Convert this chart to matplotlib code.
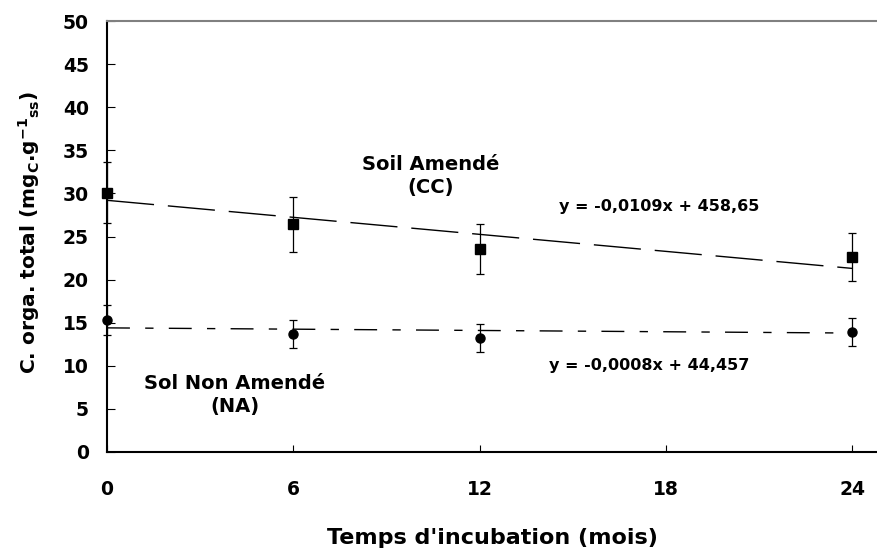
import matplotlib
matplotlib.use("Agg")
import matplotlib.pyplot as plt

# months of incubation
months = [0, 6, 12, 24]

# amended soil (CC)
cc_mean = [30.1, 26.4, 23.5, 22.6]
cc_err = [3.55, 3.2, 2.9, 2.75]

# non amended soil (NA)
na_mean = [15.35, 13.7, 13.25, 13.9]
na_err = [1.75, 1.65, 1.6, 1.65]

# linear trend end points
trend_x = [0, 24]
cc_trend = [29.2, 21.3]
na_trend = [14.4, 13.8]

xticks = [0, 6, 12, 18, 24]
yticks = list(range(0, 55, 5))

plt.rcParams['font.family'] = 'DejaVu Sans'
plt.rcParams['font.weight'] = 'bold'
plt.rcParams['mathtext.fontset'] = 'dejavusans'
plt.rcParams['mathtext.default'] = 'bf'
plt.rcParams['lines.scale_dashes'] = False

fig = plt.figure(figsize=(8.77, 5.49), dpi=100)
ax = fig.add_axes([0.122, 0.1767, 0.878, 0.785])

# trend lines
ax.plot(trend_x, cc_trend, color='black', lw=1.0, dashes=(34, 10))
ax.plot(trend_x, na_trend, color='black', lw=1.0, dashes=(16.5, 11, 6, 11))

# data with error bars
ax.errorbar(months, cc_mean, yerr=cc_err, fmt='s', color='black', ms=6.5,
            ecolor='black', elinewidth=0.9, capsize=2.6, capthick=0.9, clip_on=False)
ax.errorbar(months, na_mean, yerr=na_err, fmt='o', color='black', ms=6.5,
            ecolor='black', elinewidth=0.9, capsize=2.6, capthick=0.9, clip_on=False)

ax.set_xlim(0, 24.8)
ax.set_ylim(0, 50)
ax.set_xticks(xticks)
ax.set_yticks(yticks)
ax.tick_params(axis='both', direction='in', labelsize=13.5, width=0.8)
ax.tick_params(axis='x', length=5, pad=20)
ax.tick_params(axis='y', length=6, pad=13)
for lab in ax.get_xticklabels() + ax.get_yticklabels():
    lab.set_fontweight('bold')

ax.spines['left'].set_linewidth(1.5)
ax.spines['bottom'].set_linewidth(1.5)
ax.spines['top'].set_color('#808080')
ax.spines['top'].set_linewidth(1.5)
ax.spines['right'].set_visible(False)

ax.set_xlabel("Temps d'incubation (mois)", fontsize=16, fontweight='bold')
ax.xaxis.set_label_coords(0.5, -0.176)
ax.set_ylabel(r"C. orga. total (mg$_{C}$.g$^{-1}$$_{ss}$)", fontsize=14.5, fontweight='bold')
ax.yaxis.set_label_coords(-0.085, 0.51)

ax.text(10.43, 32.0, "Soil Amendé\n(CC)", ha='center', va='center',
        fontsize=14, fontweight='bold', linespacing=1.3)
ax.text(4.11, 6.6, "Sol Non Amendé\n(NA)", ha='center', va='center',
        fontsize=14, fontweight='bold', linespacing=1.3)
ax.text(17.77, 28.5, "y = -0,0109x + 458,65", ha='center', va='center',
        fontsize=11.5, fontweight='bold')
ax.text(17.45, 10.07, "y = -0,0008x + 44,457", ha='center', va='center',
        fontsize=11.5, fontweight='bold')

plt.savefig('out.png', dpi=100)
